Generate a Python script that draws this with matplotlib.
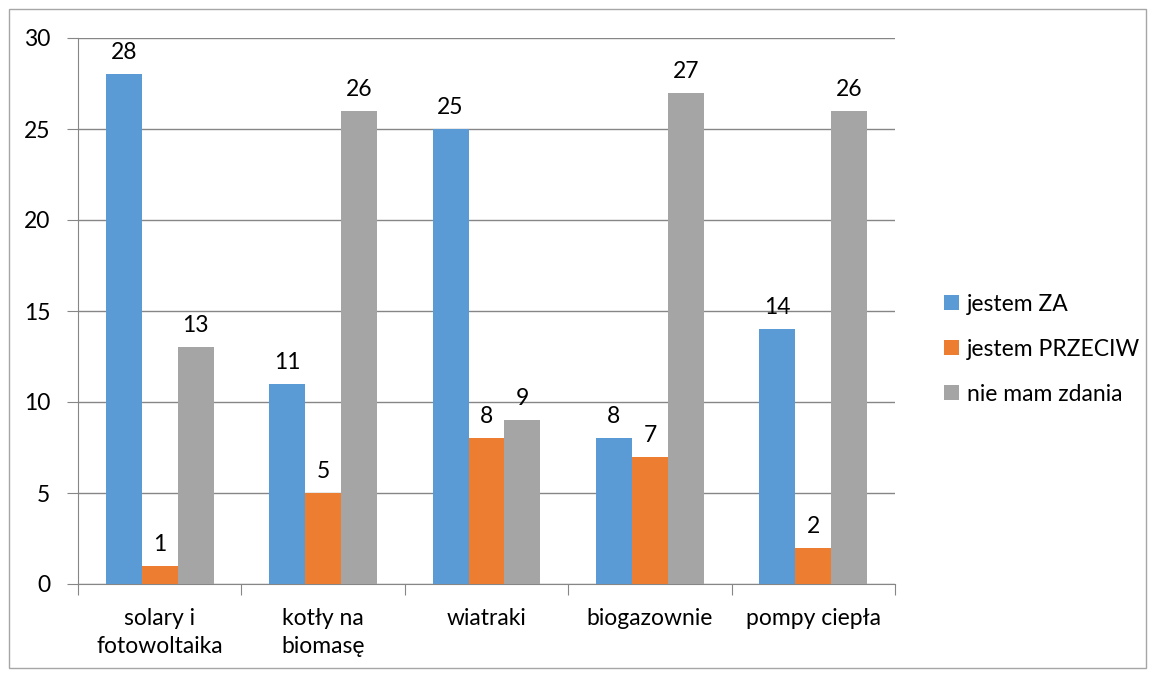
import matplotlib.pyplot as plt
import numpy as np
from matplotlib.patches import Rectangle

categories = ["solary i\nfotowoltaika", "kotły na\nbiomasę", "wiatraki", "biogazownie", "pompy ciepła"]
series_names = ["jestem ZA", "jestem PRZECIW", "nie mam zdania"]
za = [28, 11, 25, 8, 14]
przeciw = [1, 5, 8, 7, 2]
brak = [13, 26, 9, 27, 26]
colors = ["#5b9bd5", "#ed7d31", "#a5a5a5"]

plt.rcParams['font.family'] = ['Lato', 'DejaVu Sans']
fs = 16.5

fig = plt.figure(figsize=(11.55, 6.77), dpi=100)
ax = fig.add_axes([78 / 1155, 93 / 677, 817 / 1155, 546 / 677])

# outer frame of the chart area
fig.patches.append(Rectangle((9 / 1155, 9 / 677), 1137 / 1155, 659 / 677,
                             transform=fig.transFigure, fill=False,
                             edgecolor="#a6a6a6", linewidth=1))

x = np.arange(len(categories))
w = 0.22
for i, (vals, name) in enumerate(zip([za, przeciw, brak], series_names)):
    bars = ax.bar(x + (i - 1) * w, vals, w, color=colors[i], label=name, zorder=3)
    for b, v in zip(bars, vals):
        ax.text(b.get_x() + b.get_width() / 2, v + 0.6, str(v),
                ha="center", va="bottom", fontsize=fs)

ax.set_xlim(-0.5, len(categories) - 0.5)
ax.set_ylim(0, 30)
ax.set_yticks(range(0, 31, 5))
ax.yaxis.grid(True, color="#868686", linewidth=1, zorder=0)
ax.tick_params(axis="y", length=8, color="#868686", labelsize=fs, pad=12)

# x ticks sit on the category boundaries, labels in the middle
ax.set_xticks(np.arange(-0.5, len(categories), 1))
ax.set_xticklabels([])
ax.set_xticks(x, minor=True)
ax.set_xticklabels(categories, minor=True, fontsize=fs, linespacing=1.45)
ax.tick_params(axis="x", which="major", length=8, color="#868686")
ax.tick_params(axis="x", which="minor", length=0, pad=17)

for s in ["top", "right"]:
    ax.spines[s].set_visible(False)
for s in ["left", "bottom"]:
    ax.spines[s].set_color("#868686")

ax.legend(loc="center left", bbox_to_anchor=(1.035, 0.43), frameon=False,
          fontsize=fs, handlelength=0.65, handleheight=0.65, handletextpad=0.35,
          labelspacing=1.05)

fig.savefig("out.png", dpi=100)
